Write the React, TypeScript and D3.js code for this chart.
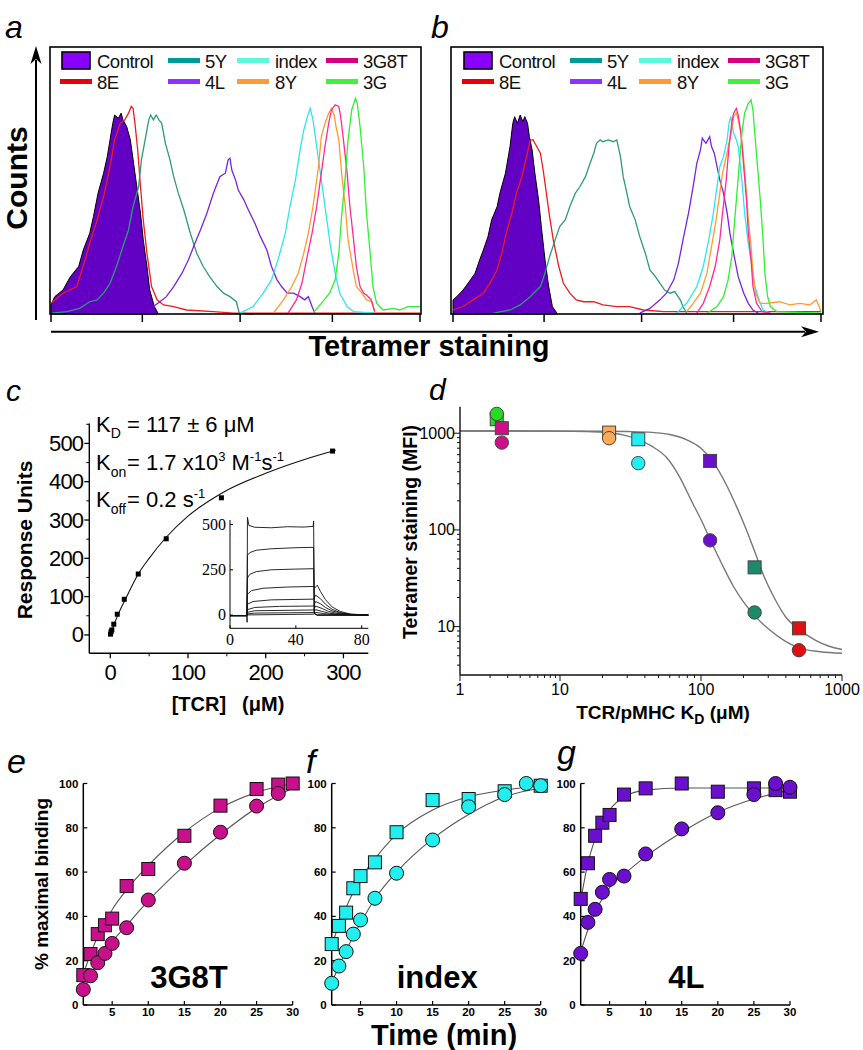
import React from 'react';
import * as d3 from 'd3';

type P = [number, number];
const FONT = "'Liberation Sans', Arial, Helvetica, sans-serif";
const SERIF = "'Liberation Serif', 'Times New Roman', serif";

// ---------------- Panels a & b : tetramer staining histograms ----------------
// x: fluorescence in log decades (0..4), y: counts as % of panel height
const HIST_SERIES = ['Control', '8E', '5Y', '4L', 'index', '8Y', '3G8T', '3G'];
const HIST_LEGEND_COLORS = ['#8a00ff', '#e3000f', '#009a9a', '#8c33ff', '#5ff7dc', '#ff9a3c', '#d4007f', '#44ee44'];
const HIST_LINE_COLORS = ['#6200c4', '#ee1c1c', '#2e9a78', '#7a25dd', '#2ee6ec', '#ff9a30', '#ff2a96', '#33ee33'];
const HIST_TICKS = [0, 0.99, 2.05, 3.05, 4];

const A_CONTROL: P[] = [[0,3.4],[0.04,6.5],[0.13,9],[0.21,14],[0.3,17.8],[0.35,24],[0.42,30.3],[0.46,36.5],[0.51,45.3],[0.57,52.8],[0.61,59],[0.64,65.3],[0.67,71.5],[0.69,74.6],[0.73,73.4],[0.76,75.3],[0.78,72.8],[0.82,70.3],[0.86,65.3],[0.89,57.8],[0.93,47.8],[0.97,37.8],[1.0,27.8],[1.04,17.8],[1.07,9],[1.12,2.8],[1.16,0.3]];
const A_8E: P[] = [[0,4],[0.13,7.8],[0.28,10.3],[0.37,20.3],[0.42,26.5],[0.5,35.3],[0.57,44],[0.64,55.3],[0.69,65.3],[0.75,71.5],[0.8,72.8],[0.84,75.3],[0.87,77.8],[0.89,77.1],[0.91,71.5],[0.94,61.5],[0.97,47.8],[1.0,35.3],[1.04,22.8],[1.09,10.3],[1.15,5.3],[1.22,3.4],[1.33,2.8],[1.47,1.5],[1.76,0.9],[1.98,0.3],[4,0.3]];
const A_5Y: P[] = [[0.01,0.3],[0.17,0.9],[0.31,2.1],[0.42,4.6],[0.5,5.3],[0.57,7.8],[0.64,11.5],[0.71,17.8],[0.78,25.3],[0.84,31.5],[0.89,40.3],[0.95,47.8],[0.98,57.8],[1.02,65.3],[1.06,72.8],[1.08,74.6],[1.11,72.8],[1.14,74.6],[1.17,72.8],[1.2,71.5],[1.24,64],[1.29,57.8],[1.33,51.5],[1.38,45.3],[1.44,39],[1.51,30.3],[1.58,22.8],[1.65,17.8],[1.72,14],[1.8,10.3],[1.87,7.8],[1.94,6.5],[2.01,4.6],[2.04,0.3],[2.19,0]];
const A_4L: P[] = [[1.11,2.8],[1.18,4.6],[1.25,6.5],[1.33,10.3],[1.42,15.3],[1.49,20.3],[1.56,26.5],[1.62,31.5],[1.69,37.8],[1.76,45.3],[1.83,51.5],[1.89,52.8],[1.92,57.8],[1.94,58.4],[1.96,54],[2.0,50.3],[2.03,46.5],[2.09,42.8],[2.14,39],[2.21,34],[2.27,29],[2.34,24],[2.39,17.8],[2.45,12.8],[2.5,10.3],[2.56,7.8],[2.63,7.8],[2.7,6.5],[2.75,5.3],[2.79,6.5],[2.83,2.8],[2.86,0.3]];
const A_INDEX: P[] = [[2.05,0.3],[2.19,2.8],[2.3,7.8],[2.39,12.8],[2.46,20.3],[2.54,30.3],[2.59,40.3],[2.65,50.3],[2.7,61.5],[2.74,69],[2.78,74],[2.81,77.1],[2.84,72.8],[2.87,65.3],[2.91,55.3],[2.95,45.3],[2.99,35.3],[3.03,25.3],[3.08,15.3],[3.13,7.8],[3.21,2.8],[3.28,0.9],[3.51,0.3]];
const A_8Y: P[] = [[2.41,0.3],[2.52,5.3],[2.61,10.3],[2.68,15.3],[2.74,22.8],[2.79,30.3],[2.84,40.3],[2.9,55.3],[2.93,66.5],[2.97,71.5],[3.01,75.3],[3.04,77.1],[3.07,74.6],[3.09,70.3],[3.12,65.3],[3.15,52.8],[3.19,40.3],[3.22,27.8],[3.27,17.8],[3.31,10.3],[3.37,7.8],[3.42,5.3],[3.48,4.6],[3.51,0.3]];
const A_3G8T: P[] = [[2.57,0.3],[2.66,5.3],[2.72,11.5],[2.77,20.3],[2.83,30.3],[2.88,40.3],[2.92,50.3],[2.97,62.8],[3.01,71.5],[3.04,76.5],[3.08,78.4],[3.12,77.8],[3.14,74],[3.17,65.3],[3.21,52.8],[3.24,40.3],[3.28,27.8],[3.31,17.8],[3.35,10.3],[3.39,7.8],[3.42,7.1],[3.47,5.3],[3.51,0.9]];
const A_3G: P[] = [[2.84,0.3],[2.93,4],[3.02,7.8],[3.08,12.8],[3.12,22.8],[3.15,36.5],[3.19,51.5],[3.22,65.3],[3.26,76.5],[3.3,80.9],[3.32,79],[3.35,70.3],[3.39,55.3],[3.42,37.8],[3.46,22.8],[3.49,10.3],[3.53,4],[3.6,1.5],[3.71,2.1],[3.78,1.5],[3.87,2.8],[4,2.8]];

const B_CONTROL: P[] = [[0,5.3],[0.04,6.5],[0.11,9],[0.19,12.8],[0.24,15.3],[0.29,20.3],[0.33,24],[0.38,29],[0.42,35.3],[0.48,40.3],[0.51,45.3],[0.57,52.8],[0.62,62.8],[0.65,71.5],[0.67,74],[0.7,71.5],[0.73,74.6],[0.76,72.1],[0.78,74],[0.81,71.5],[0.83,66.5],[0.86,61.5],[0.89,52.8],[0.93,42.8],[0.96,32.8],[1.0,20.3],[1.04,10.3],[1.08,2.8],[1.13,0.3]];
const B_8E: P[] = [[0,1.5],[0.11,2.8],[0.22,5.3],[0.33,7.8],[0.4,11.5],[0.48,16.5],[0.53,22.8],[0.58,30.3],[0.64,37.8],[0.69,45.3],[0.75,51.5],[0.8,59],[0.84,65.3],[0.87,65.3],[0.91,62.8],[0.95,60.3],[0.98,54],[1.02,44],[1.05,36.5],[1.09,27.8],[1.15,17.8],[1.2,11.5],[1.27,7.8],[1.34,5.3],[1.42,4.6],[1.53,4.6],[1.63,3.4],[1.78,2.8],[1.92,2.8],[2.07,1.5],[2.29,0.9],[4,0.9]];
const B_5Y: P[] = [[0.44,0.3],[0.62,1.5],[0.73,3.4],[0.84,6.5],[0.95,10.3],[1.0,15.3],[1.05,21.5],[1.11,27.8],[1.16,32.8],[1.22,35.3],[1.27,40.3],[1.33,45.3],[1.38,47.8],[1.44,51.5],[1.49,56.5],[1.53,60.3],[1.56,64],[1.6,65.3],[1.63,64.6],[1.69,65.3],[1.74,64.6],[1.78,65.3],[1.82,59],[1.85,51.5],[1.89,45.3],[1.92,40.3],[1.98,35.3],[2.03,29],[2.09,22.8],[2.14,16.5],[2.2,14],[2.25,11.5],[2.3,9],[2.36,7.8],[2.41,8.4],[2.47,5.3],[2.5,2.8],[2.54,0.3]];
const B_4L: P[] = [[2.03,0.3],[2.14,2.1],[2.25,5.3],[2.32,7.8],[2.4,12.8],[2.45,19],[2.5,27.8],[2.56,37.8],[2.61,47.8],[2.65,56.5],[2.69,61.5],[2.71,65.9],[2.75,64],[2.79,66.5],[2.81,62.8],[2.84,60.3],[2.87,55.3],[2.9,50.3],[2.94,45.3],[2.98,37.8],[3.01,30.3],[3.05,22.8],[3.1,14],[3.16,7.8],[3.21,4],[3.26,1.5],[3.32,0.3]];
const B_INDEX: P[] = [[2.43,0.3],[2.54,4],[2.65,10.3],[2.72,17.8],[2.78,27.8],[2.83,37.8],[2.87,47.8],[2.9,55.3],[2.94,59],[2.98,65.3],[3.0,71.5],[3.02,74],[3.05,67.8],[3.08,65.3],[3.1,62.8],[3.14,50.3],[3.17,37.8],[3.21,26.5],[3.25,17.8],[3.28,10.3],[3.34,4],[3.37,1.5],[3.45,0.3]];
const B_8Y: P[] = [[2.54,0.9],[2.61,4],[2.69,7.8],[2.76,15.3],[2.81,25.3],[2.86,35.3],[2.9,45.3],[2.93,52.8],[2.97,59],[3.0,64],[3.03,69],[3.05,74],[3.08,75.3],[3.1,72.8],[3.13,67.8],[3.16,57.8],[3.19,45.3],[3.21,35.3],[3.24,25.3],[3.26,15.3],[3.29,7.8],[3.34,4],[3.41,4],[3.55,4.6],[3.66,3.4],[3.77,4],[3.88,3.4],[3.95,5.3],[4,0.9]];
const B_3G8T: P[] = [[2.65,0.3],[2.72,4],[2.79,10.3],[2.85,17.8],[2.9,27.8],[2.93,37.8],[2.97,50.3],[3.0,62.8],[3.03,71.5],[3.05,75.3],[3.08,77.1],[3.1,74.6],[3.13,67.8],[3.16,55.3],[3.19,42.8],[3.21,30.3],[3.24,20.3],[3.26,10.3],[3.3,4],[3.36,0.9],[3.45,0.3]];
const B_3G: P[] = [[2.76,0.3],[2.87,2.8],[2.94,6.5],[2.99,12.8],[3.03,21.5],[3.05,30.3],[3.08,42.8],[3.11,55.3],[3.14,67.8],[3.17,75.3],[3.21,79],[3.24,80.3],[3.26,76.5],[3.28,67.8],[3.31,55.3],[3.34,42.8],[3.37,27.8],[3.39,15.3],[3.42,6.5],[3.45,2.8],[3.52,0.9],[4,0.3]];

const HIST_A = [A_CONTROL, A_8E, A_5Y, A_4L, A_INDEX, A_8Y, A_3G8T, A_3G];
const HIST_B = [B_CONTROL, B_8E, B_5Y, B_4L, B_INDEX, B_8Y, B_3G8T, B_3G];

// ---------------- Panel c : SPR equilibrium binding ----------------
const C_CONC = [0.3, 1, 2, 4.5, 9, 18, 36, 72, 143, 286];
const C_RU = [2, 8, 13, 28, 54, 93, 159, 251, 358, 480];
const C_FIT_CONC = [0, 5, 10, 20, 36, 50, 72, 100, 145, 200, 250, 290];
const C_FIT_RU = [0, 28, 53, 95, 159, 200, 255, 310, 372, 422, 458, 482];
const C_YTICKS = [0, 100, 200, 300, 400, 500];
const C_YMINOR = [50, 150, 250, 350, 450, 550];
const C_XTICKS = [0, 100, 200, 300];
const C_XMINOR = [50, 150, 250];
// inset sensorgrams: time (s) vs RU
const INSET_CURVES: P[][] = [
  [[0,-3],[10.2,-3],[10.4,-40],[10.6,540],[11.5,495],[15,485],[25,482],[35,488],[45,486],[50.5,490],[50.8,520],[51.2,10],[53,0],[84,0]],
  [[0,-3],[10.2,-3],[10.6,330],[12,345],[16,358],[25,366],[40,372],[50.8,374],[51.2,8],[53,0],[84,0]],
  [[0,-3],[10.2,-3],[10.6,205],[12,225],[16,240],[25,250],[40,254],[50.8,256],[51.2,8],[53,0],[84,0]],
  [[0,-3],[10.2,-3],[10.6,115],[13,135],[20,148],[35,155],[50.8,158],[51.5,150],[53,165],[55,130],[58,85],[62,45],[67,20],[73,6],[84,0]],
  [[0,-3],[10.2,-3],[10.6,60],[14,75],[25,84],[50.8,88],[52,110],[55,90],[58,60],[62,32],[67,14],[73,4],[84,0]],
  [[0,-3],[10.2,-3],[10.6,30],[15,42],[30,48],[50.8,50],[52,75],[55,62],[58,42],[62,23],[68,9],[75,2],[84,0]],
  [[0,-3],[10.2,-3],[10.6,15],[15,24],[50.8,28],[52,50],[56,36],[60,20],[65,9],[72,3],[84,0]],
  [[0,-3],[10.2,-3],[10.6,6],[15,11],[50.8,14],[52,30],[56,20],[60,11],[66,4],[84,0]],
  [[0,-3],[10.2,-3],[10.6,1],[50.8,5],[52,15],[57,8],[63,3],[84,0]],
];
const INSET_YTICKS = [0, 250, 500];
const INSET_XTICKS = [0, 40, 80];

// ---------------- Panel d : tetramer staining vs KD ----------------
const D_VARIANTS = ['3G', '3G8T', '8Y', 'index', '4L', '5Y', '8E'];
const D_COLORS = ['#22dd22', '#cc1188', '#ffaa55', '#22eef4', '#6a0fcc', '#1a8a6a', '#dd1111'];
const D_KD = [2.33, 2.62, 22.3, 35.9, 116, 240, 495];
const D_MFI_SQUARE = [1396, 1127, 1015, 866, 517, 41, 9.6];
const D_MFI_CIRCLE = [1584, 800, 888, 490, 78, 14, 5.7];
const D_FIT_SQ_KD = [1, 20, 30, 45, 60, 80, 100, 120, 150, 180, 210, 240, 280, 330, 400, 500, 650, 800, 1000];
const D_FIT_SQ_MFI = [1055, 1048, 1040, 1020, 970, 850, 700, 520, 300, 170, 100, 60, 33, 20, 12.5, 9.3, 7.2, 6.3, 5.8];
const D_FIT_CI_KD = [1, 10, 15, 20, 28, 36, 45, 57, 70, 87, 100, 116, 140, 170, 200, 240, 300, 400, 500, 700, 1000];
const D_FIT_CI_MFI = [1055, 1050, 1040, 1020, 960, 860, 730, 560, 360, 190, 128, 80, 45, 26, 18, 13, 9.5, 7, 6, 5.5, 5.3];
const D_XLABELS = [1, 10, 100, 1000];
const D_YLABELS = [10, 100, 1000];

// ---------------- Panels e, f, g : binding kinetics ----------------
const E_SQ_T = [1, 2, 3, 4, 5, 7, 10, 15, 20, 25, 28, 30];
const E_SQ = [13.5, 23, 32, 36, 39, 53.7, 61.4, 76.4, 90, 97.5, 99.5, 100];
const E_CI_T = [1, 2, 3, 4, 5, 7, 10, 15, 20, 25, 28];
const E_CI = [7, 13.2, 19.1, 23.3, 27.8, 34.9, 47.4, 64, 78, 89.8, 95.5];
const E_FIT_SQ: P[] = [[1,14],[2,23],[3,31],[4,37],[5,43],[7,52],[10,63],[15,78],[20,89],[25,96],[30,100]];
const E_FIT_CI: P[] = [[1,7],[2,13],[3,19],[4,24],[5,28.5],[7,36],[10,47],[15,63],[20,77],[25,89],[30,98]];

const F_SQ_T = [1, 2, 3, 4, 5, 7, 10, 15, 20, 25, 30];
const F_SQ = [27.5, 35.7, 41.7, 52.7, 58.2, 64.4, 78, 92.5, 93, 96.5, 99];
const F_CI_T = [1, 2, 3, 4, 5, 7, 10, 15, 20, 25, 28, 30];
const F_CI = [9.8, 17.6, 24.1, 32, 38.4, 48.2, 59.5, 74.5, 89.5, 95, 100, 99];
const F_FIT_SQ: P[] = [[1,27],[2,36],[3,44],[4,51],[5,57],[7,66],[10,77],[15,88],[20,94],[25,97],[30,99]];
const F_FIT_CI: P[] = [[1,10],[2,17.5],[3,24.5],[4,31],[5,37],[7,48],[10,60],[15,75],[20,86],[25,94],[30,98]];

const G_T = [1, 2, 3, 4, 5, 7, 10, 15, 20, 25, 28, 30];
const G_SQ = [47.9, 64, 76.4, 82.3, 85.8, 95, 97.8, 100, 96.3, 97.8, 97, 96.3];
const G_CI = [23.3, 37.3, 43.2, 50.9, 56.7, 58.2, 68.2, 79.5, 86.8, 95, 100, 98.3];
const G_FIT_SQ: P[] = [[1,47],[2,64],[3,75],[4,83],[5,88],[7,94],[10,97],[15,98],[20,98],[25,98],[30,98]];
const G_FIT_CI: P[] = [[1,24],[2,34],[3,42],[4,48],[5,53],[7,59],[10,67],[15,78],[20,87],[25,93],[30,97]];

const KIN_YTICKS = [0, 20, 40, 60, 80, 100];
const KIN_XTICKS = [5, 10, 15, 20, 25, 30];

// ---------------- helpers ----------------
const zip = (a: number[], b: number[]): P[] => a.map((v, i) => [v, b[i]] as P);

function Arrow({ x1, y1, x2, y2 }: { x1: number; y1: number; x2: number; y2: number }) {
  const ang = Math.atan2(y2 - y1, x2 - x1);
  const L = 18, W = 5.5;
  const bx = x2 - L * Math.cos(ang), by = y2 - L * Math.sin(ang);
  const px = -Math.sin(ang) * W, py = Math.cos(ang) * W;
  return (
    <g>
      <line x1={x1} y1={y1} x2={bx + 4 * Math.cos(ang)} y2={by + 4 * Math.sin(ang)} stroke="#000" strokeWidth={2} />
      <path d={`M${x2},${y2} L${bx + px},${by + py} L${bx + 5 * Math.cos(ang)},${by + 5 * Math.sin(ang)} L${bx - px},${by - py} Z`} fill="#000" />
    </g>
  );
}

function HistPanel({ x0, x1, range, data, legendX }: { x0: number; x1: number; range: [number, number]; data: P[][]; legendX: number }) {
  const x = d3.scaleLinear().domain([0, 4]).range(range);
  const y = d3.scaleLinear().domain([0, 100]).range([314, 47.3]);
  const line = d3.line<P>().x(d => x(d[0])).y(d => y(d[1])).curve(d3.curveLinear);
  const area = d3.area<P>().x(d => x(d[0])).y0(y(0)).y1(d => y(d[1])).curve(d3.curveLinear);
  const cols = [{ sw: 12, ln: 10, tx: 47 }, { sw: 118, ln: 118, tx: 155 }, { sw: 187, ln: 187, tx: 225 }, { sw: 276, ln: 276, tx: 313 }];
  const rows = [[0, 2, 4, 6], [1, 3, 5, 7]];
  const rowY = [60.5, 81.5];
  return (
    <g>
      <path d={area(data[0]) || ''} fill={HIST_LINE_COLORS[0]} stroke="#000" strokeWidth={1} />
      {[1, 2, 3, 4, 5, 6, 7].map(i => (
        <path key={i} d={line(data[i]) || ''} fill="none" stroke={HIST_LINE_COLORS[i]} strokeWidth={1.3} />
      ))}
      <rect x={x0} y={47} width={x1 - x0} height={267} fill="none" stroke="#000" strokeWidth={1.6} />
      {HIST_TICKS.map(t => (
        <line key={t} x1={x(t)} x2={x(t)} y1={314} y2={322} stroke="#000" strokeWidth={1.5} />
      ))}
      {rows.map((r, ri) => r.map((si, ci) => {
        const c = cols[ci];
        return (
          <g key={si}>
            {si === 0 ? (
              <rect x={legendX + c.sw} y={rowY[ri] - 8.5} width={28} height={17} fill={HIST_LEGEND_COLORS[0]} stroke="#000" strokeWidth={1.6} />
            ) : (
              <line x1={legendX + c.ln} x2={legendX + c.ln + 32} y1={rowY[ri]} y2={rowY[ri]} stroke={HIST_LEGEND_COLORS[si]} strokeWidth={5} />
            )}
            <text x={legendX + c.tx} y={rowY[ri] + 7} fontSize={18.5} letterSpacing={-0.5} fill="#111">{HIST_SERIES[si]}</text>
          </g>
        );
      }))}
    </g>
  );
}

function PanelC() {
  const x = d3.scaleLinear().domain([-27, 332]).range([89.3, 368.3]);
  const y = d3.scaleLinear().domain([-48, 552]).range([653.3, 423.5]);
  const fit = d3.line<P>().x(d => x(d[0])).y(d => y(d[1])).curve(d3.curveMonotoneX);
  const xi = d3.scaleLinear().domain([0, 84]).range([230, 368.3]);
  const yi = d3.scaleLinear().domain([-73, 525]).range([628.3, 520]);
  const il = d3.line<P>().x(d => xi(d[0])).y(d => yi(d[1])).curve(d3.curveLinear);
  const pts = zip(C_CONC, C_RU);
  return (
    <g>
      <line x1={x(-27)} x2={x(-27)} y1={y(-48)} y2={y(552)} stroke="#000" strokeWidth={1.4} />
      <line x1={x(-27)} x2={x(332)} y1={y(-48)} y2={y(-48)} stroke="#000" strokeWidth={1.4} />
      {C_YTICKS.map(t => (
        <g key={t}>
          <line x1={x(-27) - 5} x2={x(-27)} y1={y(t)} y2={y(t)} stroke="#000" strokeWidth={1.3} />
          <text x={x(-27) - 6} y={y(t) + 7.5} fontSize={22} textAnchor="end" letterSpacing={-0.8}>{t}</text>
        </g>
      ))}
      {C_YMINOR.map(t => <line key={t} x1={x(-27) - 3} x2={x(-27)} y1={y(t)} y2={y(t)} stroke="#000" strokeWidth={1} />)}
      {C_XTICKS.map(t => (
        <g key={t}>
          <line x1={x(t)} x2={x(t)} y1={y(-48)} y2={y(-48) + 5} stroke="#000" strokeWidth={1.3} />
          <text x={x(t)} y={680} fontSize={22} textAnchor="middle" letterSpacing={-0.8}>{t}</text>
        </g>
      ))}
      {C_XMINOR.map(t => <line key={t} x1={x(t)} x2={x(t)} y1={y(-48)} y2={y(-48) + 3} stroke="#000" strokeWidth={1} />)}
      <path d={fit(zip(C_FIT_CONC, C_FIT_RU)) || ''} fill="none" stroke="#111" strokeWidth={1.1} />
      {pts.map((p, i) => <rect key={i} x={x(p[0]) - 2.5} y={y(p[1]) - 2.5} width={5} height={5} fill="#000" />)}
      <text transform="translate(32,540) rotate(-90)" textAnchor="middle" fontWeight="bold" fontSize={21}>Response Units</text>
      <text x={228} y={711} textAnchor="middle" fontWeight="bold" fontSize={20}>
        <tspan>[TCR]</tspan><tspan dx={16}>(μM)</tspan>
      </text>
      <text x={96} y={432} fontSize={22}>K<tspan fontSize={14} dy={6}>D</tspan></text>
      <text x={127} y={432} fontSize={22}>= 117 ± 6 μM</text>
      <text x={96} y={470} fontSize={22}>K<tspan fontSize={14} dy={7}>on</tspan></text>
      <text x={127} y={470} fontSize={22}>= 1.7 x10<tspan fontSize={13} dy={-9}>3</tspan><tspan dy={9}> M</tspan><tspan fontSize={13} dy={-9}>-1</tspan><tspan dy={9}>s</tspan><tspan fontSize={13} dy={-9}>-1</tspan></text>
      <text x={96} y={507} fontSize={22}>K<tspan fontSize={14} dy={7}>off</tspan></text>
      <text x={127} y={507} fontSize={22}>= 0.2 s<tspan fontSize={13} dy={-9}>-1</tspan></text>
      {/* inset */}
      <line x1={xi(0)} x2={xi(0)} y1={yi(-73)} y2={yi(525)} stroke="#000" strokeWidth={1} />
      <line x1={xi(0)} x2={xi(84)} y1={yi(-73)} y2={yi(-73)} stroke="#000" strokeWidth={1} />
      {INSET_CURVES.map((c, i) => <path key={i} d={il(c) || ''} fill="none" stroke="#111" strokeWidth={0.9} />)}
      {INSET_YTICKS.map(t => (
        <g key={t}>
          <line x1={xi(0)} x2={xi(0) + 3} y1={yi(t)} y2={yi(t)} stroke="#000" strokeWidth={1} />
          <text x={xi(0) - 4} y={yi(t) + 5} fontSize={16} fontFamily={SERIF} textAnchor="end">{t}</text>
        </g>
      ))}
      {INSET_XTICKS.map(t => (
        <g key={t}>
          <line x1={xi(t)} x2={xi(t)} y1={yi(-73)} y2={yi(-73) - 3} stroke="#000" strokeWidth={1} />
          <text x={xi(t)} y={645} fontSize={16} fontFamily={SERIF} textAnchor="middle">{t}</text>
        </g>
      ))}
    </g>
  );
}

function PanelD() {
  const x = d3.scaleLog().domain([1, 10, 1000]).range([460, 560, 842]);
  const y = d3.scaleLog().domain([3.16, 1880]).range([675, 406.7]);
  const fit = d3.line<P>().x(d => x(d[0])).y(d => y(d[1])).curve(d3.curveMonotoneX);
  const xt = x.ticks();
  const yt = y.ticks();
  const isMajor = (v: number) => Math.abs(Math.log10(v) - Math.round(Math.log10(v))) < 1e-6;
  return (
    <g>
      <path d={fit(zip(D_FIT_SQ_KD, D_FIT_SQ_MFI)) || ''} fill="none" stroke="#777" strokeWidth={1.4} />
      <path d={fit(zip(D_FIT_CI_KD, D_FIT_CI_MFI)) || ''} fill="none" stroke="#777" strokeWidth={1.4} />
      <line x1={460} x2={460} y1={406.7} y2={675} stroke="#111" strokeWidth={1.4} />
      <line x1={460} x2={842} y1={675} y2={675} stroke="#111" strokeWidth={1.4} />
      {yt.map(t => <line key={'y' + t} x1={460 - (isMajor(t) ? 6 : 3)} x2={460} y1={y(t)} y2={y(t)} stroke="#111" strokeWidth={1} />)}
      {xt.map(t => <line key={'x' + t} x1={x(t)} x2={x(t)} y1={675} y2={675 + (isMajor(t) ? 6 : 3)} stroke="#111" strokeWidth={1} />)}
      {D_YLABELS.map(t => <text key={t} x={455} y={y(t) + 5.5} fontSize={16} textAnchor="end">{t}</text>)}
      {D_XLABELS.map(t => <text key={t} x={x(t)} y={695} fontSize={16} textAnchor="middle">{t}</text>)}
      {D_VARIANTS.map((v, i) => (
        <rect key={'s' + v} x={x(D_KD[i]) - 6.5} y={y(D_MFI_SQUARE[i]) - 6.5} width={13} height={13} fill={D_COLORS[i]} stroke="#444" strokeWidth={1} />
      ))}
      {D_VARIANTS.map((v, i) => (
        <circle key={'c' + v} cx={x(D_KD[i])} cy={y(D_MFI_CIRCLE[i])} r={6.7} fill={D_COLORS[i]} stroke="#444" strokeWidth={1} />
      ))}
      <text transform="translate(417,532) rotate(-90)" textAnchor="middle" fontWeight="bold" fontSize={19.5}>Tetramer staining (MFI)</text>
      <text x={663} y={719} textAnchor="middle" fontWeight="bold" fontSize={19}>TCR/pMHC K<tspan fontSize={14} dy={5}>D</tspan><tspan dy={-5}> (μM)</tspan></text>
    </g>
  );
}

function KinPanel({ range, color, sq, ci, fitSq, fitCi, name }: { range: [number, number]; color: string; sq: P[]; ci: P[]; fitSq: P[]; fitCi: P[]; name: string }) {
  const x = d3.scaleLinear().domain([1, 30]).range(range);
  const y = d3.scaleLinear().domain([0, 100]).range([1005, 783.5]);
  const fit = d3.line<P>().x(d => x(d[0])).y(d => y(d[1])).curve(d3.curveMonotoneX);
  const ax = range[0];
  return (
    <g>
      <path d={fit(fitSq) || ''} fill="none" stroke="#555" strokeWidth={1.1} />
      <path d={fit(fitCi) || ''} fill="none" stroke="#555" strokeWidth={1.1} />
      <line x1={ax} x2={ax} y1={1005} y2={783.5} stroke="#000" strokeWidth={1.5} />
      <line x1={ax} x2={range[1]} y1={1005} y2={1005} stroke="#000" strokeWidth={1.5} />
      {KIN_YTICKS.map(t => (
        <g key={t}>
          <line x1={ax} x2={ax + 4} y1={y(t)} y2={y(t)} stroke="#000" strokeWidth={1.2} />
          <text x={ax - 5} y={y(t) + 4} fontSize={11.5} fontWeight="bold" textAnchor="end">{t}</text>
        </g>
      ))}
      {KIN_XTICKS.map(t => (
        <g key={t}>
          <line x1={x(t)} x2={x(t)} y1={1005} y2={1001} stroke="#000" strokeWidth={1.2} />
          <text x={x(t)} y={1016} fontSize={11.5} fontWeight="bold" textAnchor="middle">{t}</text>
        </g>
      ))}
      {sq.map((p, i) => <rect key={'s' + i} x={x(p[0]) - 6.5} y={y(p[1]) - 6.5} width={13} height={13} fill={color} stroke="#111" strokeWidth={1} />)}
      {ci.map((p, i) => <circle key={'c' + i} cx={x(p[0])} cy={y(p[1])} r={7} fill={color} stroke="#111" strokeWidth={1} />)}
      <text x={(range[0] + range[1]) / 2 + 1} y={988} fontSize={31} fontWeight="bold" textAnchor="middle">{name}</text>
    </g>
  );
}

export default function App() {
  return (
    <svg width={863} height={1050} viewBox="0 0 863 1050" fontFamily={FONT} style={{ position: 'absolute', left: 0, top: 0, background: '#fff' }}>
      <rect width={863} height={1050} fill="#fff" />
      {/* panel labels */}
      <text x={5} y={38} fontSize={32} fontStyle="italic">a</text>
      <text x={431} y={38} fontSize={32} fontStyle="italic">b</text>
      <text x={6} y={401} fontSize={30} fontStyle="italic">c</text>
      <text x={429} y={400} fontSize={30} fontStyle="italic">d</text>
      <text x={7} y={773} fontSize={34} fontStyle="italic">e</text>
      <text x={306} y={773} fontSize={34} fontStyle="italic">f</text>
      <text x={557} y={764} fontSize={34} fontStyle="italic">g</text>

      {/* a & b */}
      <HistPanel x0={50} x1={421} range={[51, 420]} data={HIST_A} legendX={50} />
      <HistPanel x0={451} x1={823} range={[453, 821]} data={HIST_B} legendX={452} />
      <Arrow x1={36} y1={320} x2={36} y2={46} />
      <Arrow x1={51} y1={331.7} x2={819} y2={331.7} />
      <text transform="translate(27,178) rotate(-90)" textAnchor="middle" fontWeight="bold" fontSize={30}>Counts</text>
      <text x={429} y={356} textAnchor="middle" fontWeight="bold" fontSize={29}>Tetramer staining</text>

      <PanelC />
      <PanelD />

      <KinPanel range={[83.3, 292.7]} color="#c8108a" sq={zip(E_SQ_T, E_SQ)} ci={zip(E_CI_T, E_CI)} fitSq={E_FIT_SQ} fitCi={E_FIT_CI} name="3G8T" />
      <KinPanel range={[331.7, 540.7]} color="#22eef0" sq={zip(F_SQ_T, F_SQ)} ci={zip(F_CI_T, F_CI)} fitSq={F_FIT_SQ} fitCi={F_FIT_CI} name="index" />
      <KinPanel range={[580.7, 790]} color="#6a0fcc" sq={zip(G_T, G_SQ)} ci={zip(G_T, G_CI)} fitSq={G_FIT_SQ} fitCi={G_FIT_CI} name="4L" />
      <text transform="translate(48,884) rotate(-90)" textAnchor="middle" fontWeight="bold" fontSize={19}>% maximal binding</text>
      <text x={444} y={1045} textAnchor="middle" fontWeight="bold" fontSize={29}>Time (min)</text>
    </svg>
  );
}
